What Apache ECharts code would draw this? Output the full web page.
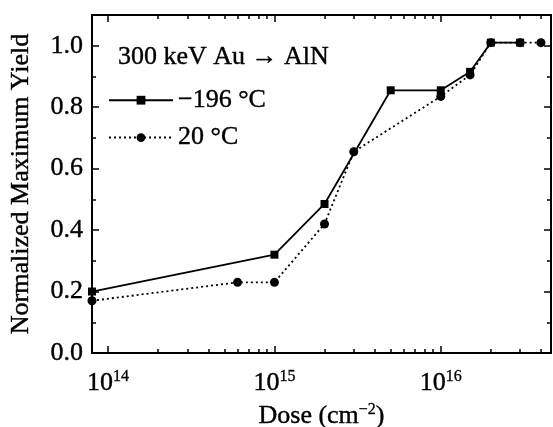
<!DOCTYPE html>
<html>
<head>
<meta charset="UTF-8">
<script src="https://cdn.jsdelivr.net/npm/echarts@6/dist/echarts.min.js"></script>
<style>
  html, body { margin: 0; padding: 0; background: #fff; }
  #paint { width: 553px; height: 427px; }
</style>
</head>
<body>
<div id="paint"></div>
<script>
// dose (cm^-2) and normalized maximum yield
var doseCold = [8e13, 1e15, 2e15, 5e15, 1e16, 1.5e16, 2e16, 3e16];
var yieldCold = [0.20, 0.32, 0.485, 0.855, 0.855, 0.915, 1.01, 1.01];
var doseRoom = [8e13, 6e14, 1e15, 2e15, 3e15, 1e16, 1.5e16, 2e16, 3e16, 4e16];
var yieldRoom = [0.17, 0.23, 0.23, 0.42, 0.655, 0.835, 0.905, 1.01, 1.01, 1.01];

var xMajor = [1e14, 1e15, 1e16];
var xMinor = [2e14, 3e14, 4e14, 5e14, 6e14, 7e14, 8e14, 9e14,
              2e15, 3e15, 4e15, 5e15, 6e15, 7e15, 8e15, 9e15, 2e16, 3e16, 4e16];
var yMajor = [0, 0.2, 0.4, 0.6, 0.8, 1.0];
var yMinor = [0.1, 0.3, 0.5, 0.7, 0.9];

var FONT = '"Liberation Serif", "Times New Roman", serif';
var FS = 26;
var ink = { color: '#000', fontFamily: FONT, textBorderColor: '#000', textBorderWidth: 0.4 };
var sup = { fontSize: 16, fontFamily: FONT, color: '#000', textBorderColor: '#000', textBorderWidth: 0.3, padding: [0, 0, 13, 0] };
var lg = function (a) { return a.map(function (v) { return Math.log10(v); }); };
var pairs = function (xs, ys) { return xs.map(function (x, i) { return [Math.log10(x), ys[i]]; }); };

var xMin = Math.log10(8e13), xMax = Math.log10(4.6e16);

function xAx(pos, vals, len, labels) {
  return {
    type: 'value', position: pos, min: xMin, max: xMax,
    axisLine: { show: true, onZero: false, lineStyle: { color: '#000', width: 2 } },
    axisTick: { show: true, inside: true, length: len, customValues: lg(vals), lineStyle: { color: '#000', width: 1.5 } },
    axisLabel: labels ? Object.assign({
      show: true, customValues: lg(vals), margin: 16, fontSize: FS,
      formatter: function (v) { return '10{s|' + Math.round(v) + '}'; },
      rich: { s: sup }
    }, ink) : { show: false },
    splitLine: { show: false }
  };
}
function yAx(pos, vals, len, labels) {
  return {
    type: 'value', position: pos, min: 0, max: 1.1,
    axisLine: { show: true, onZero: false, lineStyle: { color: '#000', width: 2 } },
    axisTick: { show: true, inside: true, length: len, customValues: vals, lineStyle: { color: '#000', width: 1.5 } },
    axisLabel: labels ? Object.assign({
      show: true, customValues: vals, margin: 9, fontSize: FS,
      formatter: function (v) { return v.toFixed(1); }
    }, ink) : { show: false },
    splitLine: { show: false }
  };
}

var xa0 = xAx('bottom', xMajor, 7, true);
xa0.name = 'Dose (cm{s|\u22122})';
xa0.nameLocation = 'middle';
xa0.nameGap = 46;
xa0.nameTextStyle = Object.assign({ fontSize: FS, rich: { s: sup } }, ink);
var ya0 = yAx('left', yMajor, 7, true);
ya0.name = 'Normalized Maximum Yield';
ya0.nameLocation = 'middle';
ya0.nameGap = 58;
ya0.nameTextStyle = Object.assign({ fontSize: FS }, ink);

var chart = echarts.init(document.getElementById('paint'), null, { renderer: 'canvas' });
chart.setOption({
  backgroundColor: '#fff',
  animation: false,
  grid: { left: 92, right: 2, top: 15, bottom: 74, containLabel: false, outerBoundsMode: 'none' },
  title: {
    text: '300 keV Au \u2192 AlN', left: 113, top: 39,
    textStyle: Object.assign({ fontSize: FS, fontWeight: 'normal' }, ink)
  },
  legend: {
    orient: 'vertical', left: 103, top: 82, itemWidth: 64, itemHeight: 11, itemGap: 11,
    textStyle: Object.assign({ fontSize: FS }, ink),
    data: ['\u2212196 \u00b0C', '20 \u00b0C']
  },
  xAxis: [xa0, xAx('bottom', xMinor, 4, false), xAx('top', xMajor, 7, false), xAx('top', xMinor, 4, false)],
  yAxis: [ya0, yAx('left', yMinor, 4, false), yAx('right', yMajor, 7, false), yAx('right', yMinor, 4, false)],
  series: [
    {
      name: '\u2212196 \u00b0C', type: 'line', xAxisIndex: 0, yAxisIndex: 0,
      data: pairs(doseCold, yieldCold), clip: false,
      symbol: 'rect', symbolSize: 8,
      itemStyle: { color: '#000' },
      lineStyle: { color: '#000', width: 1.8, type: 'solid' }
    },
    {
      name: '20 \u00b0C', type: 'line', xAxisIndex: 0, yAxisIndex: 0,
      data: pairs(doseRoom, yieldRoom), clip: false,
      symbol: 'circle', symbolSize: 9,
      itemStyle: { color: '#000' },
      lineStyle: { color: '#000', width: 1.8, type: [2, 3] }
    }
  ]
});
</script>
</body>
</html>
